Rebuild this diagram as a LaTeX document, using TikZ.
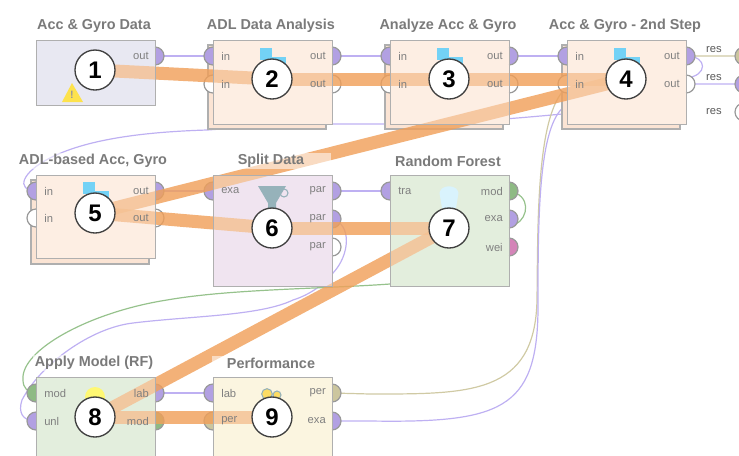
\documentclass[tikz,border=0pt]{standalone}
\usepackage{fontspec}
\setmainfont{Liberation Sans}
\usetikzlibrary{positioning}
\definecolor{portlav}{RGB}{178,160,226}
\definecolor{portkha}{RGB}{204,198,158}
\definecolor{portgrn}{RGB}{142,186,132}
\definecolor{portpnk}{RGB}{212,132,184}
\definecolor{linelav}{RGB}{190,176,242}
\definecolor{linekha}{RGB}{208,202,164}
\definecolor{linegrn}{RGB}{150,194,140}
\definecolor{bandor}{RGB}{240,160,90}
\definecolor{boxblu}{RGB}{220,220,236}
\definecolor{boxpch}{RGB}{252,229,213}
\definecolor{boxpur}{RGB}{232,214,232}
\definecolor{boxgrn}{RGB}{213,230,204}
\definecolor{boxyel}{RGB}{250,241,208}
\definecolor{sheet}{RGB}{251,228,212}
\definecolor{boxedge}{RGB}{175,175,175}
\definecolor{funnel}{RGB}{150,178,186}
\tikzset{
    conn/.style={
           line width=.9pt,
           },
}
\tikzset{
    band/.style={
           draw=bandor, line width=9.75pt,
           draw opacity=.82,
           },
}
\tikzset{
    opbox/.style={
           rectangle,
           draw=boxedge, line width=.9pt,
           fill=white, fill opacity=.35,
           draw opacity=1,
           minimum width=89.25pt,
           anchor=north west,
           inner sep=0pt,
           },
}
\tikzset{
    backbox/.style={
           fill=sheet, draw=boxedge, line width=.8pt,
           },
}
\tikzset{
    port/.style={
           draw=gray!80, line width=.9pt,
           },
}
\tikzset{
    plabel/.style={
           text=black!50,
           font=\fontsize{8.4}{10}\selectfont,
           inner sep=0pt,
           },
}
\tikzset{
    optitle/.style={
           text=black!52,
           font=\fontsize{10.8}{12}\selectfont\bfseries,
           fill=white, fill opacity=.55, text opacity=1,
           minimum width=89.25pt,
           inner sep=1pt,
           },
}
\tikzset{
    numcirc/.style={
           circle,
           draw=black!75, line width=1pt,
           fill=white,
           minimum size=30pt,
           inner sep=0pt,
           font=\fontsize{18}{20}\selectfont\bfseries,
           },
}
\newcommand{\leftports}{2i1/213/56/portlav/in, 2i2/213/84/white/in, 3i1/390/56/portlav/in, 3i2/390/84/white/in,
    4i1/567/56/portlav/in, 4i2/567/84/white/in, 5i1/36/191/portlav/in, 5i2/36/218/white/in,
    6i/213/191/portlav/exa, 7i/390/191/portlav/tra, 8i1/36/393/portgrn/mod, 8i2/36/421/portlav/unl,
    9i1/213/393/portlav/lab, 9i2/213/421/portkha/per}
\newcommand{\rightports}{1o/155/56/portlav/out, 2o1/332/56/portlav/out, 2o2/332/84/white/out, 3o1/509/56/portlav/out,
    3o2/509/84/white/out, 4o1/686/56/portlav/out, 4o2/686/84/white/out, 5o1/155/191/portlav/out,
    5o2/155/218/white/out, 6o1/332/191/portlav/par, 6o2/332/219/portlav/par, 6o3/332/247/white/par,
    7o1/509/191/portgrn/mod, 7o2/509/219/portlav/exa, 7o3/509/247/portpnk/wei, 8o1/155/393/portlav/lab,
    8o2/155/421/portgrn/mod, 9o1/332/393/portkha/per, 9o2/332/421/portlav/exa}
\newcommand{\portarc}[2]{\filldraw[port, fill=#2] (#1) ++(0,-9) arc[start angle=90, end angle=270, radius=6.75pt];}
\newcommand{\portarcr}[2]{\filldraw[port, fill=#2] (#1) ++(0,-9) arc[start angle=90, end angle=-90, radius=6.75pt];}
\newcommand{\boxicon}[2]{
    \fill[cyan!55!white] (#1-12,#2-31) rectangle (#1,#2-19);
    \fill[cyan!55!white] (#1,#2-22) rectangle (#1+14,#2-10);
}

\begin{document}
\begin{tikzpicture}[x=.75pt,y=-.75pt]
\useasboundingbox (0,0) rectangle (739,455);
% port positions
\foreach \n/\x/\y/\c/\t in \leftports {\coordinate (p\n) at (\x,\y);}
\foreach \n/\x/\y/\c/\t in \rightports {\coordinate (p\n) at (\x,\y);}
\coordinate (r1) at (744,56);
\coordinate (r2) at (744,84);
\coordinate (r3) at (744,112);
% circle positions
\foreach \n/\x/\y in {1/95/70,2/272/79,3/449/79,4/626/79,5/95/213,6/272/228,7/449/228,8/95/417,9/272/417}
    {\coordinate (c\n) at (\x,\y);}
% connectors
\draw[conn, linelav] (p1o) -- (p2i1);
\draw[conn, linelav] (p2o1) -- (p3i1);
\draw[conn, linelav] (p3o1) -- (p4i1);
\draw[conn, linelav] (p5o1) -- (p6i);
\draw[conn, linelav] (p6o1) -- (p7i);
\draw[conn, linelav] (p8o1) -- (p9i1);
\draw[conn, linelav] (p4o1) .. controls (708,56) and (708,76) .. (686,78)
    .. controls (640,85) and (600,113) .. (562,114)
    .. controls (500,120) and (440,124) .. (385,124)
    -- (332,124) .. controls (290,124) and (250,127) .. (207,130)
    .. controls (140,132) and (85,140) .. (50,158)
    .. controls (22,172) and (15,190) .. (p5i1);
\draw[conn, linelav] (p6o2) .. controls (352,224) and (350,255) .. (333,273)
    .. controls (320,290) and (300,298) .. (293,300)
    .. controls (260,316) and (190,316) .. (133,323)
    .. controls (90,328) and (40,365) .. (22,400)
    .. controls (18,412) and (22,421) .. (p8i2);
\draw[conn, linegrn] (p7o1) .. controls (532,195) and (528,218) .. (516,224)
    -- (390,284) .. controls (320,289) and (230,289) .. (167,300)
    .. controls (90,312) and (20,350) .. (23,380)
    .. controls (23,388) and (28,393) .. (p8i1);
\draw[conn, linekha] (p9o1) -- (370,394) .. controls (470,394) and (535,395) .. (537,300)
    .. controls (538,220) and (536,105) .. (570,85)
    -- (686,56) -- (r1);
\draw[conn, linelav] (p9o2) -- (370,421) .. controls (500,423) and (537,410) .. (538,310)
    .. controls (538,220) and (538,125) .. (565,106)
    -- (686,84) -- (r2);
% opaque backs and the stacked sheets
\foreach \x/\y in {213/40,390/40,567/40,36/175}
    {\filldraw[backbox] (\x-5,\y+5) rectangle (\x+113,\y+89);}
\foreach \x/\y/\h/\c in {36/40/65/boxblu,213/40/84/boxpch,390/40/84/boxpch,567/40/84/boxpch,36/175/83/boxpch,213/175/111/boxpur,390/175/111/boxgrn,36/377/110/boxgrn,213/377/110/boxyel}
    {\fill[\c] (\x,\y) rectangle (\x+119,\y+\h);}
% ports
\foreach \n/\x/\y/\c/\t in \leftports {\portarc{p\n}{\c}}
\foreach \n/\x/\y/\c/\t in \rightports {\portarcr{p\n}{\c}}
\portarc{r1}{portkha}
\portarc{r2}{portlav}
\portarc{r3}{white}
% flow of the numbered steps
\foreach \a/\b in {1/2,2/3,3/4,4/5,5/6,6/7,7/8,8/9}
    {\draw[band] (c\a) -- (c\b);}
% operators
\node (op1) [opbox, minimum height=48.75pt] at (36,40) {};
\node (op2) [opbox, minimum height=63pt] at (213,40) {};
\node (op3) [opbox, minimum height=63pt] at (390,40) {};
\node (op4) [opbox, minimum height=63pt] at (567,40) {};
\node (op5) [opbox, minimum height=62.25pt] at (36,175) {};
\node (op6) [opbox, minimum height=83.25pt] at (213,175) {};
\node (op7) [opbox, minimum height=83.25pt] at (390,175) {};
\node (op8) [opbox, minimum height=82.5pt] at (36,377) {};
\node (op9) [opbox, minimum height=82.5pt] at (213,377) {};
% titles
\node (t1) [optitle] at (94,26) {Acc \& Gyro Data};
\node (t2) [optitle] at (271,26) {ADL Data Analysis};
\node (t3) [optitle] at (448,26) {Analyze Acc \& Gyro};
\node (t4) [optitle] at (625,26) {Acc \& Gyro - 2nd Step};
\node (t5) [optitle] at (93,161) {ADL-based Acc, Gyro};
\node (t6) [optitle] at (271,161) {Split Data};
\node (t7) [optitle] at (448,161) {Random Forest};
\node (t8) [optitle] at (94,363) {Apply Model (RF)};
\node (t9) [optitle] at (271,363) {Performance};
% port labels
\foreach \n/\x/\y/\c/\t in \leftports
    {\node (l\n) [plabel, anchor=west] at ([xshift=6pt]p\n) {\t};}
\foreach \n/\x/\y/\c/\t in \rightports
    {\node (l\n) [plabel, anchor=east] at ([xshift=-4.5pt]p\n) {\t};}
\node (res1) [plabel, text=black!65] at (714,50) {res};
\node (res2) [plabel, text=black!65] at (714,78) {res};
\node (res3) [plabel, text=black!65] at (714,112) {res};
% icons
\boxicon{272}{79}
\boxicon{449}{79}
\boxicon{626}{79}
\boxicon{95}{213}
\fill[yellow!75!orange!70] (62,102) -- (72,83) -- (83,102) -- cycle;
\node (warn) [text=black!40, inner sep=0pt, font=\fontsize{8}{9}\selectfont\bfseries] at (72,95) {!};
\fill[funnel] (258,186) -- (286,186) -- (276,203) -- (276,212) -- (268,212) -- (268,203) -- cycle;
\draw[funnel, line width=.8pt] (284,193) circle[radius=3pt];
\fill[cyan!15!white] (442,208) -- (440,196) .. controls (436,183) and (462,183) .. (458,196) -- (456,208) -- cycle;
\fill[yellow!55!white] (95,397) circle[radius=7.5pt];
\draw[funnel, line width=.8pt, fill=yellow!60!orange!60] (267,394) circle[radius=4pt];
\draw[funnel, line width=.8pt, fill=yellow!60!orange!60] (277,395) circle[radius=3pt];
% numbered circles
\foreach \n in {1,...,9}
    {\node (n\n) [numcirc] at (c\n) {\n};}
\end{tikzpicture}
\end{document}
